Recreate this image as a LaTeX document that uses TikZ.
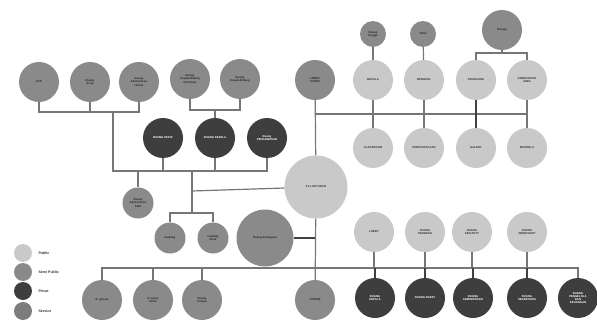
\documentclass[tikz,border=0pt]{standalone}
\usepackage{fontspec}
\setmainfont{Liberation Sans}
\definecolor{cpub}{HTML}{C9C9C9}
\definecolor{csemi}{HTML}{8A8A8A}
\definecolor{cpriv}{HTML}{3E3E3E}
\definecolor{cserv}{HTML}{7C7C7C}
\definecolor{cline}{HTML}{767676}
\begin{document}
\begin{tikzpicture}[x=1pt,y=-1pt,
  rm/.style={circle,inner sep=0pt,align=center,font=\fontsize{2.8}{3.3}\selectfont\bfseries},
  pub/.style={rm,fill=cpub,text=black!80},
  semi/.style={rm,fill=csemi,text=black!85},
  priv/.style={rm,fill=cpriv,text=white},
  serv/.style={rm,fill=cserv,text=black!85},
  r20/.style={minimum size=40pt},
  r15/.style={minimum size=31pt},
  r13/.style={minimum size=26pt},
  conn/.style={draw=cline,line width=1.2pt},
  dconn/.style={draw=black!75,line width=1.2pt},
  leg/.style={circle,inner sep=0pt,minimum size=18pt},
  legt/.style={anchor=west,font=\fontsize{3.6}{4}\selectfont\bfseries,text=black!80}]
\useasboundingbox (0,0) rectangle (597,321);
\coordinate (j1) at (113,112);
\coordinate (j2) at (113,171);
\coordinate (j3) at (192,171);
\coordinate (j4) at (192,213);
\coordinate (j5) at (192,191);
\coordinate (j6) at (215,110);
\coordinate (hA) at (315,114);
\coordinate (hB) at (527,114);
\coordinate (j7) at (502,53);
\coordinate (hl) at (102,268);
\coordinate (hr) at (578,268);
% nodes
\node[semi,r20] (a1) at (39,82) {ATK};
\node[semi,r20] (a2) at (90,82) {Ruang\\Arsip};
\node[semi,r20] (a3) at (139,82) {Ruang\\Administrasi\\Umum};
\node[semi,r20] (b1) at (190,79) {Ruang\\Kepala Bidang\\Informasi};
\node[semi,r20] (b2) at (240,79) {Ruang\\Kepala Bidang};
\node[priv,r20] (d1) at (163,138) {RUANG STAFF};
\node[priv,r20] (d2) at (215,138) {RUANG KEPALA};
\node[priv,r20] (d3) at (267,138) {Ruang\\PENGAWASAN};
\node[semi,r15] (e1) at (138,203) {Ruang\\Administrasi\\Staff};
\node[semi,r15] (g1) at (170,238) {Gudang};
\node[semi,r15] (g2) at (213,238) {Loading\\Dock};
\node[semi,minimum size=57pt] (serb) at (265,238) {Ruang Serbaguna};
\node[pub,minimum size=63pt] (cen) at (316,187) {PL.LOUTUNAN};
\node[semi,r20] (lob) at (315,80) {LOBBY\\UTAMA};
\node[semi,r13] (s1) at (373,34) {Ruang\\Tunggu};
\node[semi,r13] (s2) at (423,34) {Toilet};
\node[semi,r20] (st) at (502,30) {Storage};
\node[pub,r20] (l1) at (373,80) {MAPALA};
\node[pub,r20] (l2) at (424,80) {BENGKEL};
\node[pub,r20] (l3) at (476,80) {PANGGUNG};
\node[pub,r20] (l4) at (527,80) {GREEN ROOF\\AREA};
\node[pub,r20] (m1) at (373,148) {CLASSROOM};
\node[pub,r20] (m2) at (424,148) {PERPUSTAKAAN};
\node[pub,r20] (m3) at (476,148) {GALERY};
\node[pub,r20] (m4) at (527,148) {MUSHOLA};
\node[pub,r20] (q1) at (374,232) {LOBBY};
\node[pub,r20] (q2) at (425,232) {RUANG\\PAMERAN};
\node[pub,r20] (q3) at (472,232) {RUANG\\SECURITY};
\node[pub,r20] (q4) at (527,232) {RUANG\\WORKSHOP};
\node[priv,r20] (p1) at (375,298) {RUANG\\KEPALA};
\node[priv,r20] (p2) at (425,298) {RUANG RAPAT};
\node[priv,r20] (p3) at (473,298) {RUANG\\ADMINISTRASI};
\node[priv,r20] (p4) at (527,298) {RUANG\\SEKRETARIS};
\node[priv,r20] (p5) at (578,298) {RUANG\\PENGELOLA\\DAN\\KEUANGAN};
\node[semi,r20] (atr) at (315,300) {ATRIUM};
\node[semi,r20] (r1) at (102,300) {R. genset};
\node[semi,r20] (r2) at (153,300) {R. panel\\listrik};
\node[semi,r20] (r3) at (202,300) {Ruang\\Pompa};
% legend
\node[leg,fill=cpub] (lg1) at (23,253) {};
\node[leg,fill=csemi] (lg2) at (23,272) {};
\node[leg,fill=cpriv] (lg3) at (23,291) {};
\node[leg,fill=cserv] (lg4) at (23,311) {};
\node[legt] (lt1) at (35,253) {Public};
\node[legt] (lt2) at (35,272) {Semi Public};
\node[legt] (lt3) at (35,291) {Privat};
\node[legt] (lt4) at (35,311) {Service};
% connectors
\path[conn] (a1) |- (j1) -| (a3);
\path[conn] (a2) -- (a2|-j1);
\path[conn] (j1) -- (j2) -| (d3);
\path[conn] (d1) -- (d1|-j2);
\path[conn] (d2) -- (d2|-j2);
\path[conn] (e1) -- (e1|-j2);
\path[conn] (j3) -- (j4);
\path[conn] (j5) -- (cen);
\path[conn] (g1) |- (j4) -| (g2);
\path[conn] (b1) |- (j6) -| (b2);
\path[conn] (j6) -- (d2);
\path[conn] (lob) -- (cen);
\path[conn] (hA) -- (hB);
\path[conn] (s1) -- (l1);
\path[conn] (s2) -- (l2);
\path[conn] (st) -- (j7);
\path[conn] (l3) |- (j7) -| (l4);
\path[conn] (l1) -- (m1);
\path[conn] (l2) -- (m2);
\path[dconn] (l3) -- (m3);
\path[conn] (l4) -- (m4);
\path[conn] (cen) -- (atr);
\path[dconn] (serb) -- (serb-|atr);
\path[conn] (r1) -- (hl) -- (hr) -- (p5);
\path[conn] (r2) -- (r2|-hl);
\path[conn] (r3) -- (r3|-hl);
\path[conn] (q1) -- (q1|-hl);
\path[conn] (q2) -- (q2|-hl);
\path[conn] (q3) -- (q3|-hl);
\path[conn] (q4) -- (q4|-hl);
\path[dconn] (p1|-hl) -- (p1);
\path[dconn] (p2|-hl) -- (p2);
\path[dconn] (p3|-hl) -- (p3);
\path[dconn] (p4|-hl) -- (p4);
\end{tikzpicture}
\end{document}
